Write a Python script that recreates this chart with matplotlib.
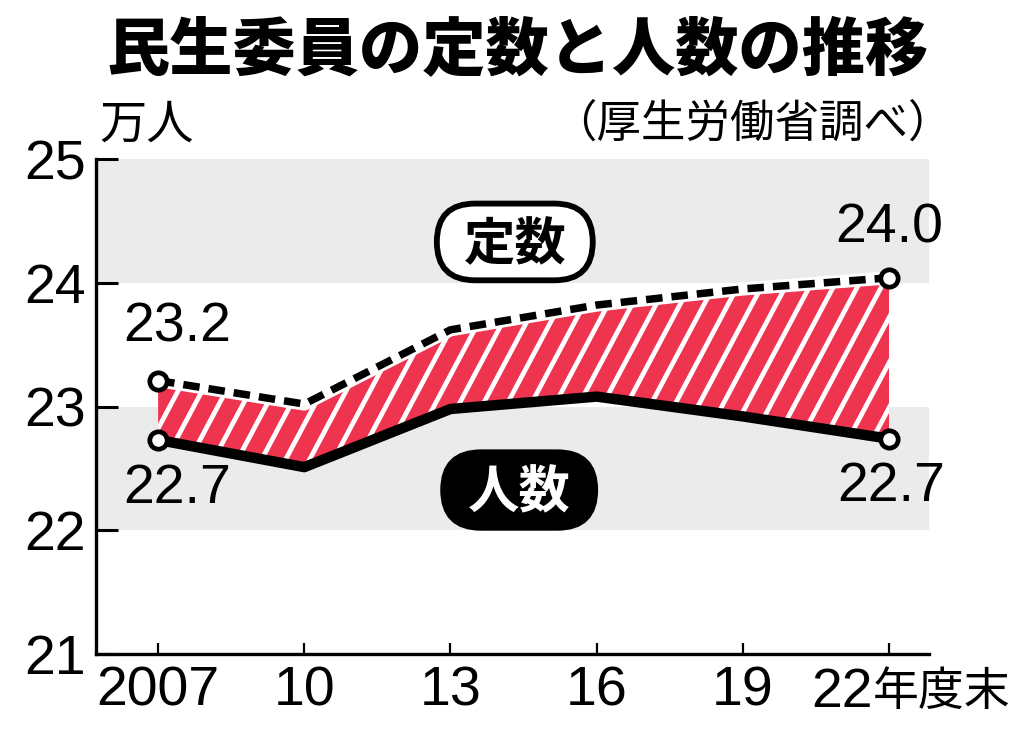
import matplotlib
matplotlib.use("Agg")
import numpy as np
import matplotlib.pyplot as plt
from matplotlib.patches import Polygon, FancyBboxPatch
from matplotlib.collections import LineCollection

JP = ["Liberation Sans", "Noto Sans CJK JP"]
plt.rcParams["font.family"] = JP

years = [2007, 2010, 2013, 2016, 2019, 2022]
xlabels = ["2007", "10", "13", "16", "19", ""]
teisu = [23.21, 23.02, 23.62, 23.82, 23.95, 24.04]    # 定数 (万人)
ninzu = [22.73, 22.51, 22.98, 23.08, 22.92, 22.74]    # 人数 (万人)
yticks = [21, 22, 23, 24, 25]
bands = [(22, 23), (24, 25)]

RED, BAND = "#ef3450", "#ebebeb"

fig = plt.figure(figsize=(10.24, 7.4), dpi=100)
ax = fig.add_axes([0.0935, 0.1162, 0.8137, 0.6689])
x0, x1 = 2005.72, 2022.82
ax.set_xlim(x0, x1)
ax.set_ylim(21, 25)

for lo, hi in bands:
    ax.axhspan(lo, hi, color=BAND, lw=0, zorder=0)

# red band between the two series, with white diagonal stripes
pts = list(zip(years, teisu)) + list(zip(years[::-1], ninzu[::-1]))
poly = Polygon(pts, closed=True, facecolor=RED, edgecolor="none", zorder=2)
ax.add_patch(poly)

W, H = fig.get_size_inches() * fig.dpi
pos = ax.get_position()
ppx = pos.width * W / (x1 - x0)
ppy = pos.height * H / 4
ang = np.deg2rad(62)
run = 4 * ppy / (ppx * np.tan(ang))
segs = [[(c, 21), (c + run, 25)] for c in np.arange(years[0] - run - 1, years[-1] + 1, 24 / ppx)]
lc = LineCollection(segs, colors="white", linewidths=3.4, zorder=2.1)
lc.set_clip_path(poly)
ax.add_collection(lc)

# lines
ax.plot(years, teisu, color="white", lw=9.5, solid_joinstyle="round", zorder=2.5)
ax.plot(years, teisu, color="black", lw=5.4, linestyle=(0, (2.2, 1.2)),
        dash_capstyle="butt", zorder=3)
ax.plot(years, ninzu, color="black", lw=7.5, solid_joinstyle="round",
        solid_capstyle="round", zorder=3)
for s in (teisu, ninzu):
    ax.plot([years[0], years[-1]], [s[0], s[-1]], "o", ms=12.5, mfc="white",
            mec="black", mew=3.4, zorder=4)

# value labels
ax.text(2007.4, 23.64, f"{teisu[0]:.1f}", fontsize=40, ha="center", va="center")
ax.text(2007.4, 22.33, f"{ninzu[0]:.1f}", fontsize=40, ha="center", va="center")
ax.text(2022.0, 24.44, f"{teisu[-1]:.1f}", fontsize=40, ha="center", va="center")
ax.text(2022.05, 22.35, f"{ninzu[-1]:.1f}", fontsize=40, ha="center", va="center")

# pill badges
a = ppx / ppy
def badge(xa, xb, ya, yb, txt, fc, tc):
    r = (yb - ya) / a / 2
    p = FancyBboxPatch((xa, ya), xb - xa, yb - ya,
                       boxstyle=f"round,pad=0,rounding_size={r}",
                       mutation_aspect=a, facecolor=fc, edgecolor="black",
                       lw=4.2, zorder=5)
    ax.add_patch(p)
    ax.text((xa + xb) / 2, (ya + yb) / 2 - 0.02, txt, fontsize=37, fontweight="bold",
            color=tc, ha="center", va="center", zorder=6, family="Noto Sans CJK JP")

badge(2012.72, 2015.92, 24.02, 24.64, "定数", "white", "black")
badge(2012.85, 2015.97, 22.02, 22.63, "人数", "black", "white")

# axes styling
for s in ("top", "right"):
    ax.spines[s].set_visible(False)
for s in ("left", "bottom"):
    ax.spines[s].set_linewidth(2.4)
ax.set_yticks(yticks)
ax.set_yticklabels([str(v) for v in yticks], fontsize=40)
ax.tick_params(axis="y", direction="in", length=16, width=2.2, pad=7)
ax.set_xticks(years)
ax.set_xticklabels(xlabels, fontsize=40)
ax.tick_params(axis="x", direction="in", length=8, width=1.6, pad=8)
ax.annotate("22", xy=(2022, 21), xytext=(-11.5, -38.5), textcoords="offset points",
            fontsize=40, ha="right", va="baseline", annotation_clip=False)
ax.annotate("年度末", xy=(2022, 21), xytext=(-11.5, -37), textcoords="offset points",
            fontsize=33, ha="left", va="baseline", annotation_clip=False,
            family="Noto Sans CJK JP")

fig.text(0.505, 0.93, "民生委員の定数と人数の推移", fontsize=45.5, fontweight="heavy",
         ha="center", va="center", family="Noto Sans CJK JP")
fig.text(0.097, 0.831, "万人", fontsize=34, ha="left", va="center", family="Noto Sans CJK JP")
fig.text(0.93, 0.833, "（厚生労働省調べ）", fontsize=32, ha="right", va="center",
         family="Noto Sans CJK JP")

fig.savefig("out.png", dpi=100)
